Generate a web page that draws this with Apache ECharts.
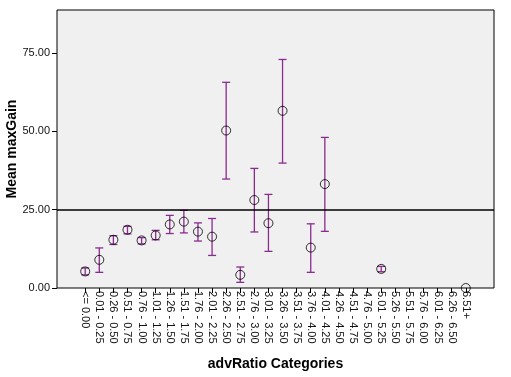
<!DOCTYPE html>
<html><head><meta charset="utf-8">
<script src="https://cdn.jsdelivr.net/npm/echarts@6/dist/echarts.min.js"></script>
<style>html,body{margin:0;padding:0;background:#fff}#c{width:511px;height:377px}</style>
</head><body><div id="c"></div>
<script>
const categories = ['<= 0.00','0.01 - 0.25','0.26 - 0.50','0.51 - 0.75','0.76 - 1.00','1.01 - 1.25','1.26 - 1.50','1.51 - 1.75','1.76 - 2.00','2.01 - 2.25','2.26 - 2.50','2.51 - 2.75','2.76 - 3.00','3.01 - 3.25','3.26 - 3.50','3.51 - 3.75','3.76 - 4.00','4.01 - 4.25','4.26 - 4.50','4.51 - 4.75','4.76 - 5.00','5.01 - 5.25','5.26 - 5.50','5.51 - 5.75','5.76 - 6.00','6.01 - 6.25','6.26 - 6.50','6.51+'];
const means = [5.3, 9.0, 15.4, 18.6, 15.2, 16.8, 20.3, 21.2, 18.0, 16.4, 50.3, 4.2, 28.1, 20.7, 56.6, null, 12.9, 33.2, null, null, null, 6.1, null, null, null, null, null, 0];
const upper = [6.4, 12.8, 16.7, 19.7, 16.1, 18.4, 23.2, 24.8, 20.8, 22.2, 65.7, 6.7, 38.2, 29.9, 73.0, null, 20.5, 48.1, null, null, null, 6.9, null, null, null, null, null, null];
const lower = [4.2, 5.0, 13.9, 17.3, 14.1, 15.4, 17.4, 17.6, 15.0, 10.4, 34.8, 1.8, 17.9, 11.7, 39.9, null, 5.0, 18.1, null, null, null, 5.2, null, null, null, null, null, null];
const yTicks = [0, 25, 50, 75];
const refValue = 25;

const PAD = 2;
const padCats = ['', ''].concat(categories, ['', '']);
const isReal = (i) => i >= PAD && i < PAD + categories.length;
const meanData = means.map((v, i) => [i + PAD, v]).filter(d => d[1] !== null);
const errData = means.map((v, i) => [i + PAD, lower[i], upper[i]]).filter(d => d[1] !== null && d[2] !== null);
const purple = '#8a2b8f';

const chart = echarts.init(document.getElementById('c'), null, {renderer: 'canvas'});
chart.setOption({
  animation: false,
  backgroundColor: '#fff',
  grid: {left: 57, right: 17, top: 10, bottom: 89, show: true, backgroundColor: '#f0f0f0', borderColor: '#000', borderWidth: 1, containLabel: false, outerBoundsMode: 'none'},
  xAxis: {
    type: 'category', data: padCats, boundaryGap: false,
    axisLine: {show: false},
    axisTick: {show: true, interval: (i) => isReal(i), length: 5, lineStyle: {color: '#000'}},
    axisLabel: {interval: (i) => isReal(i), rotate: -90, margin: 3, fontFamily: 'Liberation Sans', fontSize: 11, color: '#111'},
    splitLine: {show: false},
    name: 'advRatio Categories', nameLocation: 'middle', nameGap: 69, nameMoveOverlap: false,
    nameTextStyle: {fontFamily: 'Liberation Sans', fontWeight: 'bold', fontSize: 14, color: '#000'}
  },
  yAxis: {
    type: 'value', min: 0, max: 88.8,
    axisLine: {show: false},
    axisTick: {show: true, length: 5, customValues: yTicks, lineStyle: {color: '#000'}},
    axisLabel: {customValues: yTicks, formatter: (v) => v.toFixed(2), margin: 7, fontFamily: 'Liberation Sans', fontSize: 11, color: '#111'},
    splitLine: {show: false},
    name: 'Mean maxGain', nameLocation: 'middle', nameGap: 38, nameMoveOverlap: false,
    nameTextStyle: {fontFamily: 'Liberation Sans', fontWeight: 'bold', fontSize: 14, color: '#000'}
  },
  series: [
    {
      type: 'custom',
      data: errData,
      renderItem: function (params, api) {
        const x = api.value(0);
        const lo = api.coord([x, api.value(1)]);
        const hi = api.coord([x, api.value(2)]);
        const hw = 4;
        const st = {stroke: purple, lineWidth: 1.3};
        return {type: 'group', children: [
          {type: 'line', shape: {x1: lo[0], y1: lo[1], x2: hi[0], y2: hi[1]}, style: st},
          {type: 'line', shape: {x1: lo[0] - hw, y1: lo[1], x2: lo[0] + hw, y2: lo[1]}, style: st},
          {type: 'line', shape: {x1: hi[0] - hw, y1: hi[1], x2: hi[0] + hw, y2: hi[1]}, style: st}
        ]};
      },
      z: 2
    },
    {
      type: 'scatter', data: meanData, symbol: 'circle', symbolSize: 9,
      itemStyle: {color: 'rgba(0,0,0,0)', borderColor: '#000', borderWidth: 1},
      z: 3,
      markLine: {
        silent: true, symbol: 'none', label: {show: false},
        lineStyle: {color: '#000', width: 1.5, type: 'solid'},
        data: [{yAxis: refValue}]
      }
    }
  ]
});
</script></body></html>
